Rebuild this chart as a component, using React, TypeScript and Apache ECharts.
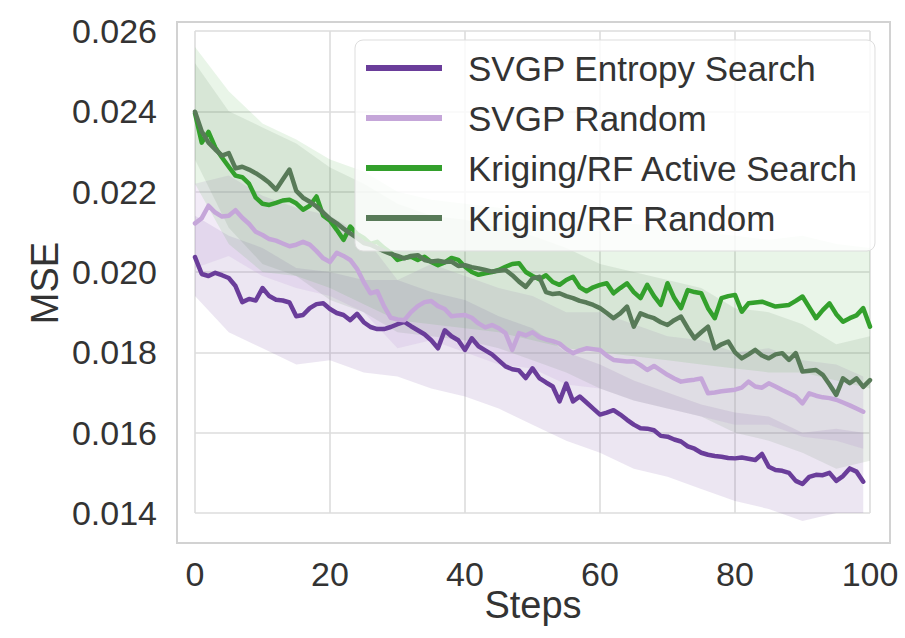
import React, { useEffect, useRef } from "react";
import * as echarts from "echarts";

const SERIES_NAMES = [
  "SVGP Entropy Search",
  "SVGP Random",
  "Kriging/RF Active Search",
  "Kriging/RF Random",
];
const COLORS = ["#6a3d9a", "#c5a6d9", "#33a02c", "#587a58"];
const BAND_COLORS = [
  "rgba(106,61,154,0.13)",
  "rgba(197,166,217,0.22)",
  "rgba(51,160,44,0.11)",
  "rgba(88,122,88,0.12)",
];

const X_TICKS = [0, 20, 40, 60, 80, 100];
const Y_TICKS = [0.014, 0.016, 0.018, 0.02, 0.022, 0.024, 0.026];

// mean curves, one value per step (purple: steps 0..99, green: steps 0..100)
const SVGP_ENTROPY = [
  0.02037, 0.01995, 0.0199, 0.01998, 0.01992, 0.01985, 0.01965, 0.01925, 0.01933, 0.01929,
  0.0196, 0.0194, 0.01931, 0.01929, 0.01924, 0.0189, 0.01893, 0.0191, 0.0192, 0.01922,
  0.01908, 0.01898, 0.01893, 0.0188, 0.01896, 0.01875, 0.01863, 0.01858, 0.01858, 0.01863,
  0.0187, 0.01876, 0.01865, 0.01855, 0.01845, 0.0183, 0.0181, 0.01855, 0.0184, 0.0183,
  0.01806, 0.01835, 0.01815, 0.01805, 0.01795, 0.0178, 0.01765, 0.01758, 0.01755, 0.01736,
  0.0176, 0.01736, 0.01725, 0.01715, 0.01678, 0.01722, 0.01678, 0.0169, 0.01675, 0.0166,
  0.01645, 0.0165, 0.01656, 0.01645, 0.01632, 0.0162, 0.01611, 0.0161, 0.01606, 0.01592,
  0.0159, 0.01583, 0.01578, 0.01566, 0.0156, 0.0155, 0.01545, 0.01542, 0.0154, 0.01537,
  0.01536, 0.01538, 0.01535, 0.01532, 0.01547, 0.01515, 0.01507, 0.01505, 0.015, 0.0148,
  0.01472, 0.0149, 0.01495, 0.01494, 0.015, 0.0148, 0.01492, 0.01511, 0.01503, 0.01478,
];

const SVGP_RANDOM = [
  0.02121, 0.02134, 0.02165, 0.02148, 0.02138, 0.0214, 0.02154, 0.02135, 0.0212, 0.021,
  0.02092, 0.02082, 0.02078, 0.02071, 0.02064, 0.02068, 0.02075, 0.02068, 0.02052, 0.02034,
  0.02025, 0.02048, 0.0204, 0.0203, 0.02008, 0.01975, 0.01947, 0.01952, 0.01915, 0.01886,
  0.01882, 0.0188, 0.019, 0.01915, 0.01925, 0.01928, 0.01915, 0.01908, 0.0189, 0.01892,
  0.01893, 0.01886, 0.01872, 0.01862, 0.01868, 0.0186, 0.01848, 0.01806, 0.01848, 0.01842,
  0.0185, 0.01838, 0.01832, 0.01828, 0.01822, 0.01808, 0.01798, 0.01805, 0.0181, 0.01808,
  0.01806, 0.01792, 0.01781, 0.01779, 0.01777, 0.01778, 0.01768, 0.01756, 0.01766, 0.01755,
  0.01744, 0.01735, 0.01727, 0.0173, 0.01732, 0.01735, 0.01698, 0.017, 0.01703, 0.01705,
  0.01707, 0.01712, 0.01727, 0.01715, 0.01712, 0.01723, 0.01715, 0.01706, 0.01698, 0.0169,
  0.01673, 0.01698, 0.01692, 0.01688, 0.01686, 0.01682, 0.01675, 0.01668, 0.0166, 0.01652,
];

const KRIGING_ACTIVE = [
  0.02395, 0.02322, 0.02349, 0.0231, 0.02285, 0.02262, 0.0224, 0.02236, 0.0222, 0.02185,
  0.0217, 0.02167, 0.02172, 0.02178, 0.0218, 0.02171, 0.02155, 0.02165, 0.02188, 0.0214,
  0.02128, 0.02105, 0.0208, 0.02113, 0.02095, 0.02085, 0.0207, 0.02075, 0.0206, 0.02048,
  0.0203, 0.02035, 0.02038, 0.0203, 0.02038, 0.02025, 0.02017, 0.02024, 0.02035, 0.0203,
  0.02013, 0.02, 0.01993, 0.01997, 0.02, 0.02005, 0.02013, 0.0202, 0.02022, 0.02,
  0.0199, 0.01982, 0.01992, 0.01975, 0.01968, 0.0198, 0.01988, 0.01962, 0.01952, 0.01962,
  0.01968, 0.01972, 0.01947, 0.0196, 0.01972, 0.0195, 0.01935, 0.01968, 0.0194, 0.01918,
  0.01972, 0.01935, 0.0191, 0.01955, 0.0195, 0.01947, 0.0191, 0.01885, 0.01935, 0.0194,
  0.01943, 0.01901, 0.01922, 0.01924, 0.01926, 0.0192, 0.01914, 0.01916, 0.01918, 0.01928,
  0.01939, 0.01912, 0.01885, 0.01905, 0.01922, 0.01895, 0.01876, 0.01885, 0.01892, 0.0191,
  0.01864,
];

const KRIGING_RANDOM = [
  0.02399, 0.0235, 0.02322, 0.02305, 0.0229, 0.02296, 0.02258, 0.02262, 0.02255, 0.02246,
  0.02235, 0.02222, 0.02205, 0.0223, 0.02255, 0.02202, 0.02185, 0.02175, 0.02163, 0.02148,
  0.02132, 0.02121, 0.02108, 0.02096, 0.02085, 0.02072, 0.02068, 0.0206, 0.02052, 0.02045,
  0.0204, 0.02034, 0.0204, 0.02042, 0.0203, 0.02026, 0.02028, 0.02025, 0.02026, 0.02015,
  0.02017, 0.02012, 0.02009, 0.02005, 0.02001, 0.02003, 0.02005, 0.01992, 0.01976, 0.01963,
  0.01984, 0.01988, 0.0195, 0.01945, 0.01947, 0.0194, 0.01935, 0.01928, 0.01924, 0.01918,
  0.0191, 0.01898, 0.01885, 0.01897, 0.01914, 0.01864, 0.01897, 0.0189, 0.01885, 0.01875,
  0.01868, 0.0188, 0.01889, 0.0186, 0.01835, 0.0185, 0.01864, 0.0181, 0.0182, 0.01827,
  0.018, 0.01785, 0.01795, 0.01806, 0.01792, 0.01785, 0.01795, 0.01798, 0.01781, 0.01798,
  0.01752, 0.01754, 0.01756, 0.01744, 0.0172, 0.01694, 0.01735, 0.01723, 0.01735, 0.01714,
  0.01731,
];

// shaded spread bands, sampled every 5 steps
const BAND_STEPS_SVGP = [0, 5, 10, 15, 20, 25, 30, 35, 40, 45, 50, 55, 60, 65, 70, 75, 80, 85, 90, 95, 99];
const BAND_STEPS_KRIG = [0, 5, 10, 15, 20, 25, 30, 35, 40, 45, 50, 55, 60, 65, 70, 75, 80, 85, 90, 95, 100];

const SVGP_ENTROPY_LO = [0.0194, 0.0185, 0.0181, 0.0177, 0.0178, 0.0175, 0.0174, 0.0171, 0.0169, 0.0166, 0.0162, 0.0158, 0.0155, 0.0151, 0.0149, 0.0146, 0.0143, 0.0141, 0.0138, 0.014, 0.014];
const SVGP_ENTROPY_HI = [0.0214, 0.0209, 0.0206, 0.0201, 0.02, 0.0198, 0.0198, 0.0195, 0.0193, 0.0189, 0.0186, 0.018, 0.0177, 0.0173, 0.017, 0.0167, 0.0165, 0.0164, 0.016, 0.0161, 0.016];
const SVGP_RANDOM_LO = [0.0201, 0.0204, 0.0199, 0.0196, 0.0194, 0.019, 0.0181, 0.0183, 0.018, 0.0177, 0.0176, 0.0172, 0.0171, 0.0168, 0.0166, 0.0164, 0.0162, 0.0162, 0.0159, 0.0158, 0.0156];
const SVGP_RANDOM_HI = [0.0222, 0.0224, 0.0219, 0.0216, 0.0214, 0.0209, 0.0198, 0.0202, 0.0199, 0.0196, 0.0194, 0.019, 0.019, 0.0187, 0.0184, 0.0183, 0.018, 0.0181, 0.0178, 0.0177, 0.0174];
const KRIGING_ACTIVE_LO = [0.0222, 0.0207, 0.02, 0.0199, 0.0196, 0.0192, 0.0188, 0.0187, 0.0186, 0.0185, 0.0183, 0.0181, 0.018, 0.0179, 0.0178, 0.0177, 0.0176, 0.0175, 0.0175, 0.0173, 0.0171];
const KRIGING_ACTIVE_HI = [0.0256, 0.0245, 0.0237, 0.0233, 0.0228, 0.0225, 0.022, 0.0218, 0.0217, 0.0216, 0.0214, 0.0213, 0.0212, 0.0212, 0.0211, 0.021, 0.0209, 0.0208, 0.0209, 0.0207, 0.0206];
const KRIGING_RANDOM_LO = [0.0228, 0.0211, 0.0202, 0.0199, 0.0193, 0.019, 0.0185, 0.0184, 0.0183, 0.0181, 0.0178, 0.0175, 0.0171, 0.0168, 0.0166, 0.0164, 0.016, 0.0158, 0.0155, 0.0151, 0.0153];
const KRIGING_RANDOM_HI = [0.0252, 0.024, 0.0236, 0.0232, 0.0226, 0.0222, 0.0217, 0.0214, 0.0213, 0.0211, 0.0209, 0.0206, 0.0202, 0.02, 0.0198, 0.0196, 0.0191, 0.019, 0.0187, 0.0182, 0.0184];

const FONT = "'Liberation Sans', Arial, Helvetica, sans-serif";
const TEXT_COLOR = "#333333";

export default function App() {
  const ref = useRef<HTMLDivElement>(null);

  useEffect(() => {
    if (!ref.current) return;
    const chart = echarts.init(ref.current, null, { renderer: "svg" });

    const means = [SVGP_ENTROPY, SVGP_RANDOM, KRIGING_ACTIVE, KRIGING_RANDOM];
    const bands: number[][][] = [
      [BAND_STEPS_SVGP, SVGP_ENTROPY_LO, SVGP_ENTROPY_HI],
      [BAND_STEPS_SVGP, SVGP_RANDOM_LO, SVGP_RANDOM_HI],
      [BAND_STEPS_KRIG, KRIGING_ACTIVE_LO, KRIGING_ACTIVE_HI],
      [BAND_STEPS_KRIG, KRIGING_RANDOM_LO, KRIGING_RANDOM_HI],
    ];

    const bandSeries = bands.map(([steps, lo, hi], k) => {
      const rows = steps.map((s, i) => [s, lo[i], hi[i]]);
      return {
        name: "band-" + k,
        type: "custom",
        xAxisIndex: 0,
        yAxisIndex: 0,
        silent: true,
        clip: false,
        z: 1,
        encode: { x: 0, y: [1, 2] },
        data: rows,
        renderItem: (params: any, api: any) => {
          if (params.dataIndex !== 0) return null;
          const upper = rows.map((r) => api.coord([r[0], r[2]]));
          const lower = rows.map((r) => api.coord([r[0], r[1]])).reverse();
          return {
            type: "polygon",
            shape: { points: upper.concat(lower) },
            style: { fill: BAND_COLORS[k], stroke: "none" },
          };
        },
      };
    });

    const lineSeries = means.map((vals, k) => ({
      name: SERIES_NAMES[k],
      type: "line",
      xAxisIndex: 0,
      yAxisIndex: 0,
      clip: false,
      showSymbol: false,
      symbol: "none",
      color: COLORS[k],
      lineStyle: { color: COLORS[k], width: 4.5, join: "round", cap: "round" },
      data: vals.map((v, i) => [i, v]),
      z: 3,
    }));

    const option: any = {
      animation: false,
      backgroundColor: "#ffffff",
      textStyle: { fontFamily: FONT },
      grid: [
        { left: 195, right: 35, top: 31, bottom: 125, show: false },
        {
          left: 177,
          top: 22,
          width: 713,
          height: 521,
          show: true,
          borderColor: "#d2d2d2",
          borderWidth: 2,
          backgroundColor: "transparent",
        },
      ],
      xAxis: [
        {
          type: "value",
          gridIndex: 0,
          min: X_TICKS[0],
          max: X_TICKS[X_TICKS.length - 1],
          interval: 20,
          axisLine: { show: false },
          axisTick: { show: false },
          axisLabel: {
            fontSize: 34,
            color: TEXT_COLOR,
            fontFamily: FONT,
            margin: 44,
          },
          splitLine: { show: true, lineStyle: { color: "#dcdcdc", width: 1.6 } },
        },
        { type: "value", gridIndex: 1, min: 0, max: 1, show: false },
      ],
      yAxis: [
        {
          type: "value",
          gridIndex: 0,
          min: Y_TICKS[0],
          max: Y_TICKS[Y_TICKS.length - 1],
          interval: 0.002,
          axisLine: { show: false },
          axisTick: { show: false },
          axisLabel: {
            fontSize: 34,
            color: TEXT_COLOR,
            fontFamily: FONT,
            margin: 38,
            formatter: (v: number) => v.toFixed(3),
          },
          splitLine: { show: true, lineStyle: { color: "#dcdcdc", width: 1.6 } },
        },
        { type: "value", gridIndex: 1, min: 0, max: 1, show: false },
      ],
      legend: {
        show: true,
        orient: "vertical",
        left: 355,
        top: 40,
        data: SERIES_NAMES.map((n, k) => ({ name: n, itemStyle: { color: COLORS[k] } })),
        icon: "rect",
        itemWidth: 76,
        itemHeight: 6,
        itemGap: 10,
        backgroundColor: "rgba(255,255,255,0.8)",
        borderColor: "#dddddd",
        borderWidth: 1,
        borderRadius: 8,
        padding: [8, 16, 13, 11],
        selectedMode: false,
        textStyle: {
          fontSize: 35,
          color: TEXT_COLOR,
          fontFamily: FONT,
          lineHeight: 40,
          padding: [0, 0, 0, 21],
        },
        z: 10,
      },
      graphic: [
        {
          type: "text",
          x: 533,
          y: 605,
          style: {
            text: "Steps",
            fontSize: 38,
            fontFamily: FONT,
            fill: TEXT_COLOR,
            textAlign: "center",
            textVerticalAlign: "middle",
          },
        },
        {
          type: "text",
          x: 45,
          y: 283,
          rotation: Math.PI / 2,
          style: {
            text: "MSE",
            fontSize: 38,
            fontFamily: FONT,
            fill: TEXT_COLOR,
            textAlign: "center",
            textVerticalAlign: "middle",
          },
        },
      ],
      series: [...bandSeries, ...lineSeries],
    };

    chart.setOption(option);
    return () => chart.dispose();
  }, []);

  return (
    <div
      ref={ref}
      style={{ position: "fixed", left: 0, top: 0, width: 905, height: 638, background: "#fff" }}
    />
  );
}
